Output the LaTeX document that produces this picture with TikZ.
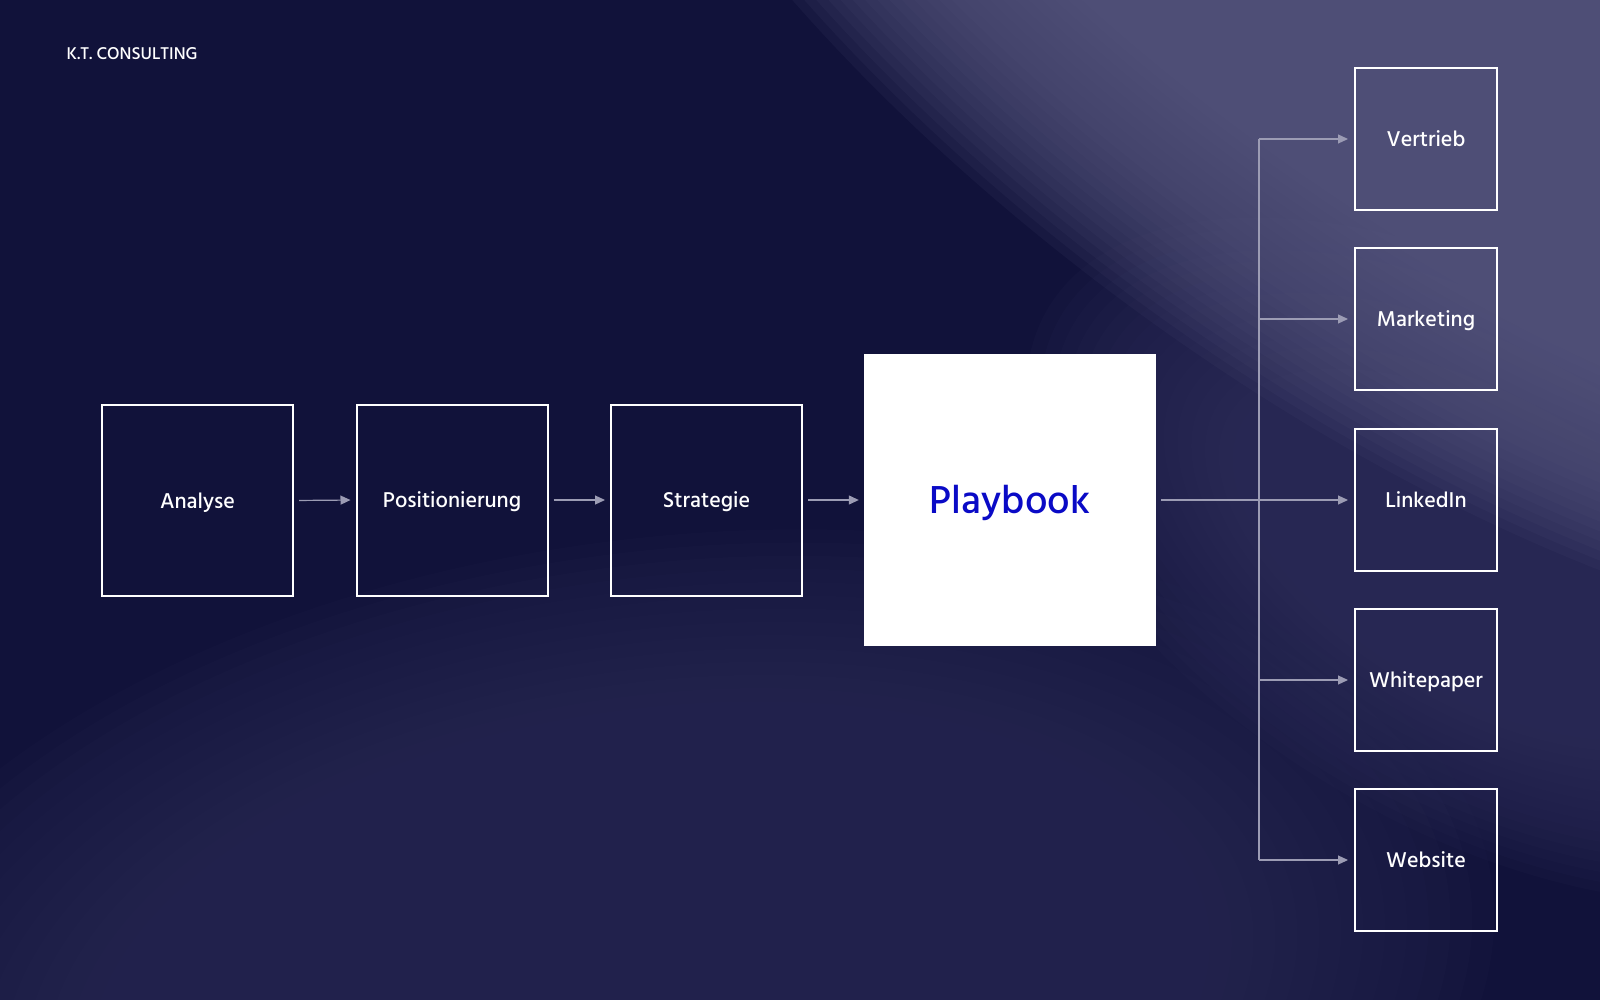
\documentclass[tikz,border=0pt]{standalone}
\usepackage{fontspec}
\setmainfont{Hind Siliguri}
\newfontfamily\medfont{Hind Siliguri Medium}
\usetikzlibrary{arrows.meta}
\definecolor{bgdark}{HTML}{11123A}
\definecolor{glowtr}{HTML}{57577F}
\definecolor{glowmid}{HTML}{30305C}
\definecolor{glowbot}{HTML}{2A2A55}
\definecolor{conncol}{HTML}{9C9CB4}
\definecolor{pbblue}{HTML}{0A0AC6}
\tikzset{
  stagebox/.style={draw=white, line width=2pt, minimum size=191pt, inner sep=0pt,
    text=white, font=\medfont\fontsize{22}{26}\selectfont, text height=15pt, text depth=0pt},
  outbox/.style={draw=white, line width=2pt, minimum size=142pt, inner sep=0pt,
    text=white, font=\medfont\fontsize{22}{26}\selectfont, text height=15pt, text depth=0pt},
  pbbox/.style={fill=white, minimum size=292pt, inner sep=0pt, text=pbblue,
    font=\medfont\fontsize{40}{46}\selectfont, text height=27pt, text depth=0pt},
  conn/.style={draw=conncol, line width=1.2pt, -{Triangle[length=10pt,width=9pt]}},
  busline/.style={draw=conncol, line width=1.2pt},
}
\begin{document}
\begin{tikzpicture}[x=1pt,y=-1pt]
\fill[bgdark] (0,0) rectangle (1600,1000);
\useasboundingbox (0,0) rectangle (1600,1000);
\begin{scope}
\clip (0,0) rectangle (1600,1000);
% bottom glow
\foreach \i in {0,...,19}{
  \fill[glowbot, opacity=0.1, rotate around={8:(650,1000)}]
    (650,1000) ellipse [x radius={850-22*\i}, y radius={460-13*\i}];
}
% right-middle glow
\foreach \i in {0,...,15}{
  \fill[glowmid, opacity=0.1, rotate around={-30:(1480,560)}]
    (1480,560) ellipse [x radius={500-15*\i}, y radius={270-9*\i}];
}
% top-right glow
\foreach \i in {0,...,23}{
  \fill[glowtr, opacity=0.1, rotate around={-36:(1420,-70)}]
    (1420,-70) ellipse [x radius={1050-12*\i}, y radius={475-9*\i}];
}
\end{scope}

\node[anchor=base west, text=white, font=\medfont\fontsize{17.5}{20}\selectfont] (logo) at (63,60) {K.T. CONSULTING};

\node[stagebox] (ana) at (197.5,500.5) {Analyse};
\node[stagebox] (pos) at (452,500) {Positionierung};
\node[stagebox] (str) at (706.5,500) {Strategie};
\node[pbbox] (pb) at (1010,500) {Playbook};

\node[outbox] (ver) at (1426,139) {Vertrieb};
\node[outbox] (mkt) at (1426,319) {Marketing};
\node[outbox] (lin) at (1426,500) {LinkedIn};
\node[outbox] (wp) at (1426,680) {Whitepaper};
\node[outbox] (web) at (1426,860) {Website};

\draw[conn, shorten <=5pt, shorten >=5pt] (ana.east) -- (pos.west);
\draw[conn, shorten <=5pt, shorten >=5pt] (pos.east) -- (str.west);
\draw[conn, shorten <=5pt, shorten >=5pt] (str.east) -- (pb.west);
\draw[conn, shorten <=5pt, shorten >=6pt] (pb.east) -- (lin.west);

\coordinate (b1) at (1259,139);
\coordinate (b2) at (1259,319);
\coordinate (b4) at (1259,680);
\coordinate (b5) at (1259,860);
\draw[busline] (b1) -- (b5);
\draw[conn, shorten >=6pt] (b1) -- (ver.west);
\draw[conn, shorten >=6pt] (b2) -- (mkt.west);
\draw[conn, shorten >=6pt] (b4) -- (wp.west);
\draw[conn, shorten >=6pt] (b5) -- (web.west);
\end{tikzpicture}
\end{document}
